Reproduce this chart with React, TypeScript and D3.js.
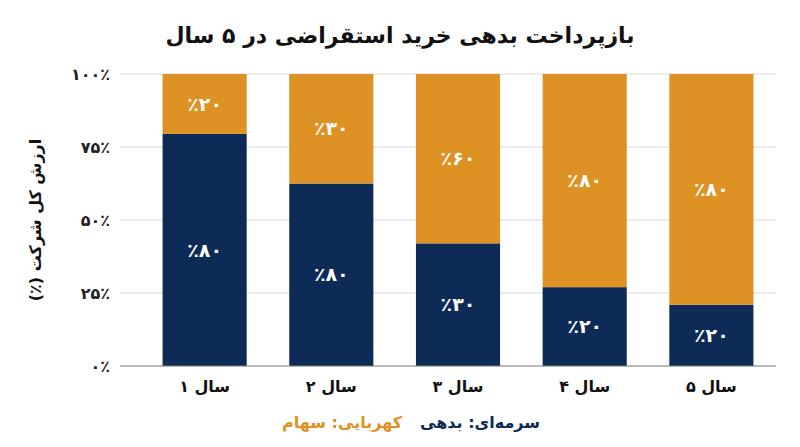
import React, { useEffect } from 'react';
import * as d3 from 'd3';

// Data
const years = ['1', '2', '3', '4', '5'];
const debtShare = [79.5, 62.5, 42, 27, 21];
const debtLabels = [80, 80, 30, 20, 20];
const equityLabels = [20, 30, 60, 80, 80];
const yTicks = [0, 25, 50, 75, 100];

const NAVY = '#0d2b56';
const AMBER = '#dd9223';
const FONT = '"DejaVu Sans", "Noto Sans", sans-serif';

const fa = (n: number | string) =>
  String(n).replace(/\d/g, d => '۰۱۲۳۴۵۶۷۸۹'[+d]);

const width = 800;
const height = 447;

const App: React.FC = () => {
  useEffect(() => {
    document.body.style.margin = '0';
  }, []);

  const rows = years.map((y, i) => ({ year: y, debt: debtShare[i], equity: 100 - debtShare[i] }));
  const series = d3.stack<any>().keys(['debt', 'equity'])(rows);

  const x = d3.scaleBand<string>().domain(years).range([120, 796]).padding(0.336);
  const y = d3.scaleLinear().domain([0, 100]).range([366, 74]);

  const colors = [NAVY, AMBER];
  const labels = [debtLabels, equityLabels];

  return (
    <svg width={width} height={height} style={{ display: 'block', background: '#fff' }} fontFamily={FONT}>
      <text x={400} y={43} textAnchor="middle" direction="rtl" fontSize={22} fontWeight="bold" fill="#111">
        بازپرداخت بدهی خرید استقراضی در ۵ سال
      </text>

      {yTicks.filter(t => t > 0).map(t => (
        <line key={t} x1={120} x2={776} y1={y(t)} y2={y(t)} stroke="#d9d9d9" strokeWidth={1} />
      ))}

      {series.map((s, si) => (
        <g key={s.key}>
          {s.map((d, i) => (
            <g key={i}>
              <rect
                x={x(years[i])}
                width={x.bandwidth()}
                y={y(d[1])}
                height={y(d[0]) - y(d[1])}
                fill={colors[si]}
              />
              <text
                x={(x(years[i]) as number) + x.bandwidth() / 2}
                y={(y(d[0]) + y(d[1])) / 2}
                dy="0.35em"
                textAnchor="middle"
                fill="#fff"
                fontSize={19}
                fontWeight="bold"
              >
                {'٪' + fa(labels[si][i])}
              </text>
            </g>
          ))}
        </g>
      ))}

      <line x1={120} x2={776} y1={y(0)} y2={y(0)} stroke="#777" strokeWidth={1.2} />

      {yTicks.map(t => (
        <text key={t} x={110} y={y(t)} dy="0.35em" textAnchor="end" fontSize={16} fontWeight="bold" fill="#222">
          {fa(t) + '٪'}
        </text>
      ))}

      <text
        transform={`translate(35,${y(50)}) rotate(-90)`}
        textAnchor="middle"
        direction="rtl"
        dy="0.35em"
        fontSize={16}
        fontWeight="bold"
        fill="#111"
      >
        ارزش کل شرکت (٪)
      </text>

      {years.map(yr => (
        <text
          key={yr}
          x={(x(yr) as number) + x.bandwidth() / 2}
          y={386}
          dy="0.35em"
          textAnchor="middle"
          direction="rtl"
          fontSize={16}
          fontWeight="bold"
          fill="#111"
        >
          {'سال ' + fa(yr)}
        </text>
      ))}

      <text x={540} y={428} direction="rtl" textAnchor="start" fontSize={16} fontWeight="bold" fill={NAVY}>
        سرمه‌ای: بدهی
      </text>
      <text x={402} y={428} direction="rtl" textAnchor="start" fontSize={16} fontWeight="bold" fill={AMBER}>
        کهربایی: سهام
      </text>
    </svg>
  );
};

export default App;
